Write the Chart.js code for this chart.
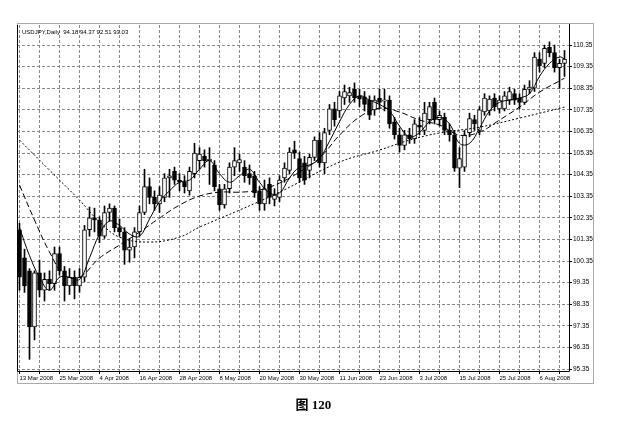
<!DOCTYPE html>
<html>
<head>
<meta charset="utf-8">
<script src="https://cdn.jsdelivr.net/npm/chart.js@4.4.1/dist/chart.umd.min.js"></script>
<style>
    html, body { margin: 0; padding: 0; background: #fff; }
    #wrap { position: relative; width: 627px; height: 426px; }
    #caption {
        position: absolute; left: 0; top: 394px; width: 627px;
        text-align: center; font: bold 13px "Liberation Serif", "Noto Sans CJK SC", serif;
    }
</style>
</head>
<body>
<div id="wrap">
    <canvas id="chart" width="627" height="426"></canvas>
    <div id="caption">图 120</div>
</div>
<script>
// daily USDJPY bars, 13 Mar 2008 .. 13 Aug 2008 (bar index = trading day)
const opens = [
    101.8, 100.5, 99.9, 97.3, 99.8, 99.0, 99.5, 99.3, 100.7, 99.9,
    99.2, 99.6, 99.2, 99.6, 101.8, 102.35, 102.25, 101.5, 102.6, 102.8,
    101.9, 101.7, 100.85, 101.0, 101.7, 102.6, 103.8, 103.3, 103.0, 103.3,
    104.2, 104.5, 104.1, 104.0, 103.6, 104.4, 105.0, 105.2, 105.0, 104.8,
    103.7, 102.95, 103.7, 104.7, 104.9, 104.7, 104.4, 104.3, 103.6, 103.0,
    103.9, 103.2, 103.3, 104.2, 104.55, 105.5, 105.1, 104.9, 104.55, 105.15,
    105.95, 104.9, 106.4, 107.4, 107.3, 107.9, 108.0, 108.3, 108.0, 107.95,
    107.8, 107.35, 107.9, 107.75, 107.8, 106.8, 106.2, 105.7, 106.2, 106.0,
    106.65, 106.4, 106.9, 107.7, 106.9, 107.0, 106.4, 106.2, 104.65, 104.7,
    106.3, 106.9, 106.4, 107.25, 107.3, 107.9, 107.4, 107.4, 107.8, 108.1,
    107.9, 107.7, 108.3, 108.35, 109.7, 109.5, 110.25, 110.0, 109.3, 109.5
];
const highs = [
    102.1, 100.9, 100.0, 99.9, 100.4, 99.8, 99.9, 101.0, 101.0, 100.1,
    100.0, 99.9, 100.0, 102.0, 102.85, 102.8, 102.4, 102.9, 103.0, 102.9,
    102.3, 101.9, 101.4, 101.9, 102.9, 104.6, 104.2, 103.6, 103.8, 104.4,
    104.6, 104.7, 104.4, 104.3, 104.7, 105.8, 105.6, 105.5, 105.6, 105.0,
    103.9, 103.9, 104.9, 105.6, 105.3, 105.0, 104.8, 104.5, 103.8, 104.1,
    104.2, 103.7, 104.3, 104.9, 105.6, 105.9, 105.4, 105.2, 105.3, 106.1,
    106.3, 106.5, 107.6, 107.7, 108.2, 108.5, 108.4, 108.6, 108.3, 108.2,
    108.0, 108.0, 108.3, 108.3, 108.0, 107.0, 106.5, 106.4, 106.5, 106.9,
    107.0, 107.7, 107.7, 107.9, 107.3, 107.2, 106.7, 106.4, 105.6, 106.4,
    107.2, 107.1, 107.5, 108.1, 108.0, 108.1, 108.0, 108.2, 108.4, 108.3,
    108.1, 108.5, 108.7, 110.0, 110.0, 110.35, 110.5, 110.35, 109.7, 110.1
];
const lows = [
    99.0, 98.9, 95.8, 96.7, 98.7, 98.5, 99.0, 99.0, 99.7, 98.5,
    98.8, 98.6, 98.9, 99.4, 101.5, 101.7, 101.2, 101.4, 102.2, 101.7,
    101.5, 100.2, 100.3, 100.5, 101.5, 102.5, 103.0, 102.7, 102.6, 103.1,
    103.3, 103.9, 103.6, 103.5, 103.4, 104.2, 104.6, 104.7, 103.9, 103.6,
    102.7, 102.8, 103.5, 104.3, 104.5, 104.0, 103.9, 103.3, 102.7, 102.7,
    103.0, 102.9, 103.1, 104.0, 104.4, 105.1, 104.0, 103.9, 104.2, 105.0,
    104.7, 104.4, 106.2, 106.6, 107.0, 107.6, 107.7, 107.7, 107.5, 107.3,
    106.9, 107.1, 107.4, 107.3, 106.5, 106.0, 105.4, 105.5, 105.8, 105.8,
    106.2, 106.2, 106.7, 106.7, 106.6, 106.2, 105.9, 104.5, 103.75, 104.5,
    106.1, 106.4, 106.2, 107.1, 107.1, 107.3, 107.2, 107.3, 107.6, 107.6,
    107.4, 107.6, 108.1, 108.2, 109.1, 109.3, 109.8, 109.1, 108.35, 108.9
];
const closes = [
    99.6, 99.2, 97.3, 99.8, 99.0, 99.5, 99.3, 100.7, 99.9, 99.2,
    99.6, 99.2, 99.6, 101.8, 102.35, 102.25, 101.5, 102.6, 102.8, 101.9,
    101.7, 100.85, 101.0, 101.7, 102.6, 103.8, 103.3, 103.0, 103.4, 104.2,
    104.3, 104.1, 104.0, 103.8, 104.5, 105.35, 105.3, 105.0, 105.05, 103.8,
    102.95, 103.7, 104.7, 105.0, 105.05, 104.3, 104.2, 103.5, 103.0, 103.7,
    103.3, 103.4, 104.1, 104.65, 105.4, 105.35, 104.2, 104.1, 105.15, 105.95,
    104.9, 106.3, 107.4, 106.9, 108.0, 108.2, 108.15, 107.9, 107.85, 107.6,
    107.1, 107.8, 107.7, 107.8, 106.7, 106.2, 105.7, 106.2, 106.0, 106.7,
    106.55, 107.2, 107.5, 106.9, 107.1, 106.4, 106.2, 104.65, 105.1, 106.2,
    106.95, 106.7, 107.35, 107.9, 107.85, 107.5, 107.8, 108.0, 108.2, 107.8,
    107.7, 108.3, 108.4, 109.8, 109.4, 110.2, 110.0, 109.3, 109.5, 109.7
];

// moving averages (bar index, value)
const fastBars = [0, 2, 4, 6, 8, 10, 12, 14, 16, 18, 20, 22, 24, 26, 28, 30, 32, 34, 36, 38,
    40, 42, 44, 46, 48, 50, 52, 54, 56, 58, 60, 62, 64, 66, 68, 70, 72, 74, 76, 78,
    80, 82, 84, 86, 88, 90, 92, 94, 96, 98, 100, 102, 104, 106, 108, 109];
const fastMA = [101.9, 100.6, 99.6, 99.0, 99.6, 99.6, 99.5, 100.5, 101.6, 102.2,
    102.0, 101.6, 101.5, 102.3, 103.1, 103.6, 104.0, 104.1, 104.6, 105.0,
    104.4, 104.0, 104.3, 104.6, 104.0, 103.5, 103.5, 104.2, 104.7, 104.8,
    105.1, 105.9, 106.8, 107.6, 108.0, 107.8, 107.6, 107.3, 106.6, 106.1,
    106.3, 106.8, 107.0, 106.7, 105.8, 105.8, 106.5, 107.3, 107.7, 107.8,
    107.9, 108.1, 108.9, 109.5, 109.8, 109.7];

const midBars = [0, 3, 6, 9, 12, 16, 20, 24, 28, 32, 36, 40, 44, 48, 52, 56, 60, 64, 68,
    72, 76, 80, 84, 88, 92, 96, 100, 104, 109];
const midMA = [103.87, 102.25, 100.77, 99.7, 99.6, 100.49, 101.09, 101.69, 102.34, 102.94,
    103.36, 103.54, 103.54, 103.64, 103.96, 104.47, 105.12, 106.18, 107.02,
    107.43, 107.25, 106.88, 106.65, 106.18, 106.32, 106.88, 107.48, 108.17, 108.82];

const slowBars = [0, 6, 12, 16, 20, 26, 32, 36, 44, 52, 64, 72, 78, 84, 92, 100, 109];
const slowMA = [105.95, 104.56, 103.17, 102.16, 101.46, 101.23, 101.46, 101.92, 102.71,
    103.54, 104.93, 105.49, 105.95, 106.28, 106.55, 106.97, 107.48];

const dateLabels = ["13 Mar 2008", "25 Mar 2008", "4 Apr 2008", "16 Apr 2008", "28 Apr 2008",
    "8 May 2008", "20 May 2008", "30 May 2008", "11 Jun 2008", "23 Jun 2008",
    "3 Jul 2008", "15 Jul 2008", "25 Jul 2008", "6 Aug 2008"];
const priceTicks = [95.35, 96.35, 97.35, 98.35, 99.35, 100.35, 101.35, 102.35, 103.35,
    104.35, 105.35, 106.35, 107.35, 108.35, 109.35, 110.35];

const headerText = "USDJPY,Daily  94.18 94.37 92.51 93.03";

const bodies = closes.map((c, i) => {
    let lo = Math.min(opens[i], c);
    let hi = Math.max(opens[i], c);
    if (hi - lo < 0.06) hi = lo + 0.06;
    return { x: i, y: [lo, hi] };
});
const wicks = closes.map((c, i) => ({ x: i, y: [lows[i], highs[i]] }));
const bodyColors = closes.map((c, i) => c >= opens[i] ? "#ffffff" : "#000000");

const toPoints = (bars, vals) => bars.map((b, i) => ({ x: b, y: vals[i] }));

const framePlugin = {
    id: "frame",
    afterDraw(chart) {
        const { ctx, chartArea: a } = chart;
        ctx.save();
        ctx.strokeStyle = "#aaa";
        ctx.lineWidth = 1;
        ctx.strokeRect(a.left + 0.5, a.top - 1.5, 576, a.bottom - a.top + 14);
        ctx.strokeStyle = "#000";
        ctx.beginPath();
        ctx.moveTo(a.left + 0.5, a.top);
        ctx.lineTo(a.left + 0.5, a.bottom + 0.5);
        ctx.lineTo(a.right + 0.5, a.bottom + 0.5);
        ctx.lineTo(a.right + 0.5, a.top - 1);
        ctx.stroke();
        ctx.fillStyle = "#000";
        ctx.font = "6px 'Liberation Sans', Arial, sans-serif";
        ctx.textBaseline = "middle";
        ctx.fillText(headerText, a.left + 5, a.top + 7);
        ctx.restore();
    }
};

const ctx = document.querySelector("#chart");

new Chart(ctx, {
    type: "bar",
    data: {
        datasets: [
            {
                type: "line",
                data: toPoints(fastBars, fastMA),
                borderColor: "#000",
                borderWidth: 1,
                pointRadius: 0,
                tension: 0.4,
                order: 0
            },
            {
                type: "line",
                data: toPoints(midBars, midMA),
                borderColor: "#000",
                borderWidth: 1,
                borderDash: [6, 3],
                pointRadius: 0,
                tension: 0.4,
                order: 0
            },
            {
                type: "line",
                data: toPoints(slowBars, slowMA),
                borderColor: "#000",
                borderWidth: 1,
                borderDash: [2, 2],
                pointRadius: 0,
                tension: 0.4,
                order: 0
            },
            {
                data: bodies,
                backgroundColor: bodyColors,
                borderColor: "#000",
                borderWidth: 1,
                borderSkipped: false,
                barThickness: 4,
                grouped: false,
                order: 1
            },
            {
                data: wicks,
                backgroundColor: "#000",
                borderWidth: 0,
                barThickness: 1,
                grouped: false,
                order: 2
            }
        ]
    },
    options: {
        responsive: false,
        animation: false,
        layout: {
            padding: { left: 17, top: 25, right: 0, bottom: 0 }
        },
        scales: {
            x: {
                type: "linear",
                offset: false,
                min: -0.5,
                max: 109.9,
                afterFit: (s) => { s.height = 55; },
                afterBuildTicks: (s) => {
                    const t = [];
                    for (let b = 0; b <= 108; b += 4) t.push({ value: b });
                    s.ticks = t;
                },
                border: { display: false, dash: [3, 2] },
                grid: {
                    offset: false,
                    color: "#888",
                    lineWidth: 1,
                    drawTicks: true,
                    tickLength: 3,
                    tickColor: "#000"
                },
                ticks: {
                    autoSkip: false,
                    maxRotation: 0,
                    align: "start",
                    padding: 1,
                    color: "#000",
                    font: { family: "'Liberation Sans', Arial, sans-serif", size: 6 },
                    callback: (v) => (v % 8 === 0 ? dateLabels[v / 8] || "" : "")
                }
            },
            y: {
                position: "right",
                min: 95.26,
                max: 111.28,
                afterFit: (s) => { s.width = 58; },
                afterBuildTicks: (s) => {
                    s.ticks = priceTicks.map((v) => ({ value: v }));
                },
                border: { display: false, dash: [3, 2] },
                grid: {
                    color: "#888",
                    lineWidth: 1,
                    drawTicks: true,
                    tickLength: 3,
                    tickColor: "#000"
                },
                ticks: {
                    padding: 1,
                    color: "#000",
                    font: { family: "'Liberation Sans', Arial, sans-serif", size: 6.5 },
                    callback: (v) => v.toFixed(2)
                }
            }
        },
        plugins: {
            legend: { display: false },
            tooltip: { enabled: false }
        }
    },
    plugins: [framePlugin]
});
</script>
</body>
</html>
